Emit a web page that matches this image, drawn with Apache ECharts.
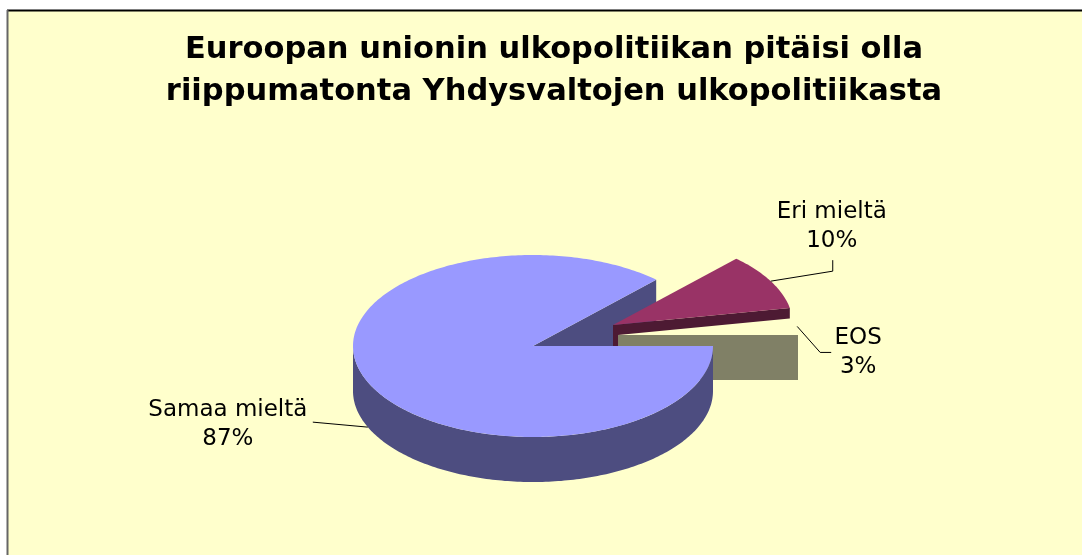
<!DOCTYPE html>
<html>
<head>
<meta charset="utf-8">
<script src="https://cdn.jsdelivr.net/npm/echarts@6/dist/echarts.min.js"></script>
<style>
html, body { margin: 0; padding: 0; background: #fff; }
#main { width: 1082px; height: 555px; }
</style>
</head>
<body>
<div id="main"></div>
<script>
// data
var categories = ['Samaa mieltä', 'Eri mieltä', 'EOS'];
var values = [87, 10, 3];
var colors = ['#9999FF', '#993366', '#FFFFCC'];
var titleLines = ['Euroopan unionin ulkopolitiikan pitäisi olla', 'riippumatonta Yhdysvaltojen ulkopolitiikasta'];

// 3d pie geometry (px)
var cx = 533, cy = 346, rx = 180, ry = 91, depth = 45;
// how far each slice is pulled out of the pie (screen px)
var explode = [[0, 0], [80, -21], [85, -11]];
// label centre relative to anchor point, leader line bends relative to anchor
var labelLayout = [
    {dx: -140, dy: -3, line: [[-55, -5]]},
    {dx: 61, dy: -55, line: [[62, -10], [62, -21]]},
    {dx: 61, dy: 26, line: [[23, 26], [34, 26]]}
];

var total = values.reduce(function (a, b) { return a + b; }, 0);
var RAD = Math.PI / 180;

// slices go clockwise starting at 3 o'clock
var slices = [];
var acc = 0;
values.forEach(function (v, i) {
    var a1 = 360 - acc / total * 360;
    acc += v;
    var a0 = 360 - acc / total * 360;
    slices.push({a0: a0, a1: a1, mid: (a0 + a1) / 2});
});

function darken(hex, f) {
    var n = parseInt(hex.slice(1), 16);
    var r = Math.round((n >> 16 & 255) * f), g = Math.round((n >> 8 & 255) * f), b = Math.round((n & 255) * f);
    return 'rgb(' + r + ',' + g + ',' + b + ')';
}

function pt(ox, oy, a, dz) {
    return [ox + rx * Math.cos(a * RAD), oy - ry * Math.sin(a * RAD) + (dz || 0)];
}

function arc(ox, oy, from, to, dz) {
    var pts = [];
    var n = Math.max(2, Math.ceil(Math.abs(to - from)));
    for (var k = 0; k <= n; k++) pts.push(pt(ox, oy, from + (to - from) * k / n, dz));
    return pts;
}

function renderItem(params, api) {
    var i = params.dataIndex;
    var s = slices[i];
    var ox = cx + explode[i][0];
    var oy = cy + explode[i][1];
    var top = colors[i], side = darken(colors[i], 0.5);
    var children = [];

    // outer wall, only the part facing the viewer
    var w0 = Math.max(s.a0, 180), w1 = Math.min(s.a1, 360);
    if (w1 > w0) {
        var pts = arc(ox, oy, w0, w1, 0).concat(arc(ox, oy, w1, w0, depth));
        children.push({type: 'polygon', z2: oy + ry + depth, shape: {points: pts}, style: {fill: side}});
    }
    // radial faces
    function radial(a) {
        var p = pt(ox, oy, a, 0);
        children.push({
            type: 'polygon', z2: (oy + p[1]) / 2,
            shape: {points: [[ox, oy], p, [p[0], p[1] + depth], [ox, oy + depth]]},
            style: {fill: side}
        });
    }
    if (Math.cos(s.a0 * RAD) > 1e-6) radial(s.a0);
    if (Math.cos(s.a1 * RAD) < -1e-6) radial(s.a1);

    // top face
    children.push({
        type: 'polygon', z2: 1000 + oy,
        shape: {points: [[ox, oy]].concat(arc(ox, oy, s.a0, s.a1, 0))},
        style: {fill: top}
    });

    // label + leader
    var anchor = pt(ox, oy, s.mid, Math.sin(s.mid * RAD) < 0 ? depth : 0);
    var lay = labelLayout[i];
    var linePts = [anchor].concat(lay.line.map(function (d) { return [anchor[0] + d[0], anchor[1] + d[1]]; }));
    children.push({
        type: 'polyline', z2: 2000,
        shape: {points: linePts},
        style: {stroke: '#000', lineWidth: 1, fill: null}
    });
    children.push({
        type: 'text', z2: 2001,
        x: anchor[0] + lay.dx, y: anchor[1] + lay.dy,
        style: {
            text: api.value(1) + '\n' + Math.round(api.value(0) / total * 100) + '%',
            font: '23px "DejaVu Sans"', fill: '#000',
            align: 'center', verticalAlign: 'middle', lineHeight: 29
        }
    });
    return {type: 'group', children: children};
}

var myChart = echarts.init(document.getElementById('main'));
myChart.setOption({
    backgroundColor: '#fff',
    animation: false,
    title: {
        text: titleLines.join('\n'),
        left: 549,
        top: 24,
        textAlign: 'center',
        textStyle: {fontFamily: 'DejaVu Sans', fontWeight: 'bold', fontSize: 30.5, lineHeight: 42, color: '#000'}
    },
    graphic: [
        {type: 'rect', z: -10, shape: {x: 7, y: 10, width: 1100, height: 600}, style: {fill: '#FFFFCC'}},
        {type: 'line', z: -9, shape: {x1: 7, y1: 10.5, x2: 1082, y2: 10.5}, style: {stroke: '#000', lineWidth: 2}},
        {type: 'line', z: -9, shape: {x1: 7.5, y1: 10, x2: 7.5, y2: 555}, style: {stroke: '#666', lineWidth: 2}}
    ],
    series: [{
        type: 'custom',
        coordinateSystem: 'none',
        renderItem: renderItem,
        data: values.map(function (v, i) { return [v, categories[i]]; })
    }]
});
</script>
</body>
</html>
